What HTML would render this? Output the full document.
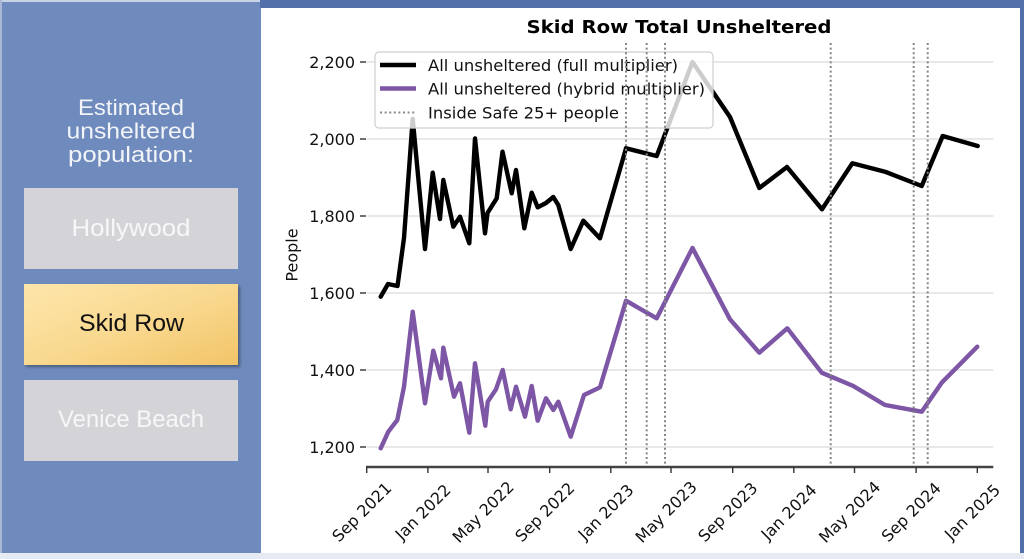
<!DOCTYPE html>
<html><head><meta charset="utf-8"><style>
html,body{margin:0;padding:0;width:1024px;height:559px;overflow:hidden;background:#6f8bbd}
svg{display:block}
</style></head><body>
<svg width="1024" height="559" viewBox="0 0 1024 559" xmlns="http://www.w3.org/2000/svg">
<defs>
<linearGradient id="gold" x1="0" y1="0" x2="1" y2="1">
<stop offset="0" stop-color="#fde6ab"/><stop offset="0.5" stop-color="#f9d990"/><stop offset="1" stop-color="#f2c467"/>
</linearGradient>
<filter id="sh" x="-10%" y="-10%" width="130%" height="140%"><feDropShadow dx="2" dy="2" stdDeviation="1.5" flood-color="#000" flood-opacity="0.35"/></filter>
</defs>
<!-- background -->
<rect x="0" y="0" width="1024" height="559" fill="#6f8bbd"/>
<rect x="260" y="0" width="764" height="8" fill="#5370aa"/>
<rect x="1020" y="0" width="4" height="559" fill="#5370aa"/>
<rect x="0" y="0" width="260" height="2" fill="#c9d3e6"/>
<rect x="0" y="0" width="2" height="553" fill="#aab8d6"/>
<rect x="0" y="553" width="1024" height="6" fill="#e6eaf3"/>

<!-- left panel text -->
<g font-family="'Liberation Sans', 'DejaVu Sans', sans-serif" fill="#f2f4f8" font-size="22" text-anchor="middle">
<text x="131" y="115" textLength="106" lengthAdjust="spacingAndGlyphs">Estimated</text>
<text x="131" y="138.5" textLength="129" lengthAdjust="spacingAndGlyphs">unsheltered</text>
<text x="131" y="162" textLength="126" lengthAdjust="spacingAndGlyphs">population:</text>
</g>
<rect x="24" y="188" width="214" height="81" fill="#d4d4d8"/>
<rect x="24" y="284" width="214" height="81" fill="url(#gold)" filter="url(#sh)"/>
<rect x="24" y="380" width="214" height="81" fill="#d4d4d8"/>
<g font-family="'Liberation Sans', 'DejaVu Sans', sans-serif" font-size="24" text-anchor="middle">
<text x="131" y="236" fill="#f7f7f9" textLength="119" lengthAdjust="spacingAndGlyphs">Hollywood</text>
<text x="131.5" y="331" fill="#111" textLength="105" lengthAdjust="spacingAndGlyphs">Skid Row</text>
<text x="131" y="427" fill="#f7f7f9" textLength="146" lengthAdjust="spacingAndGlyphs">Venice Beach</text>
</g>

<!-- chart panel -->
<rect x="261" y="8" width="759" height="545" fill="#ffffff"/>

<!-- gridlines -->
<g stroke="#e0e0e0" stroke-width="1.6">
<line x1="366.7" y1="62" x2="993.3" y2="62"/>
<line x1="366.7" y1="139" x2="993.3" y2="139"/>
<line x1="366.7" y1="216" x2="993.3" y2="216"/>
<line x1="366.7" y1="293" x2="993.3" y2="293"/>
<line x1="366.7" y1="370" x2="993.3" y2="370"/>
<line x1="366.7" y1="447" x2="993.3" y2="447"/>
</g>

<!-- y ticks -->
<g stroke="#333" stroke-width="1.4">
<line x1="360" y1="62" x2="366" y2="62"/>
<line x1="360" y1="139" x2="366" y2="139"/>
<line x1="360" y1="216" x2="366" y2="216"/>
<line x1="360" y1="293" x2="366" y2="293"/>
<line x1="360" y1="370" x2="366" y2="370"/>
<line x1="360" y1="447" x2="366" y2="447"/>
</g>
<g font-family="'DejaVu Sans', sans-serif" font-size="16" fill="#111" text-anchor="end">
<text x="355" y="68">2,200</text>
<text x="355" y="145">2,000</text>
<text x="355" y="222">1,800</text>
<text x="355" y="299">1,600</text>
<text x="355" y="376">1,400</text>
<text x="355" y="453">1,200</text>
</g>
<text x="0" y="0" transform="translate(297.5 255) rotate(-90)" font-family="'DejaVu Sans', sans-serif" font-size="16" fill="#111" text-anchor="middle">People</text>

<!-- data lines -->
<polyline fill="none" stroke="#000" stroke-width="4.4" stroke-linejoin="round" stroke-linecap="round" points="380.7,296.7 388,284 397.5,286 404,238 412.7,119 425,249 432.7,172.7 440,219 443.3,180 453.3,226.7 460,216.7 469.3,243.3 475,138.5 485,233.3 487.5,213 496.7,198.3 502.5,151.7 511.7,193.3 516,170 524.3,228.3 531.7,192.7 537.7,207.3 546,203 553.3,197 558.3,205 570.7,249 583.3,220.7 600,238.3 626,148.3 656.7,156 692.5,62 730,117 759.3,188 787,167 822,209.3 852.3,163.3 885,171.7 921.7,186 942.7,136 977.7,146"/>
<polyline fill="none" stroke="#7d56a6" stroke-width="4.4" stroke-linejoin="round" stroke-linecap="round" points="380.7,448.3 388.3,431.7 397.3,420 404,386.7 412.7,311.7 425,403.3 433.3,350.7 441,378.3 443.3,347.7 454,396.7 460,383.3 469.3,432.7 475,363.3 485.3,425.7 487.7,401.7 496,389.3 502.7,370 510.7,409.3 516,386.7 525,416.7 531.7,386 537.7,420.7 546,398.3 553.3,410 558.3,401.7 570.7,436.7 584,395 600,387.3 626,300.7 656.7,318.3 692.5,248 730,319.3 759.3,352.7 787.3,328.3 821.7,372.7 853.3,386 885,405 921.7,411.7 941.7,382.7 977.3,346.7"/>

<!-- legend -->
<rect x="375" y="52" width="338" height="76" rx="4" ry="4" fill="#ffffff" fill-opacity="0.8" stroke="#cfcfcf" stroke-width="1.2"/>
<line x1="380" y1="65" x2="416" y2="65" stroke="#000" stroke-width="4.4"/>
<line x1="380" y1="88.5" x2="416" y2="88.5" stroke="#7d56a6" stroke-width="4.4"/>
<line x1="380" y1="112.5" x2="416" y2="112.5" stroke="#8a8a8a" stroke-width="2" stroke-dasharray="2 2.6"/>
<g font-family="'DejaVu Sans', sans-serif" font-size="16" fill="#111">
<text x="428" y="71" textLength="250" lengthAdjust="spacingAndGlyphs">All unsheltered (full multiplier)</text>
<text x="428" y="94.5" textLength="277" lengthAdjust="spacingAndGlyphs">All unsheltered (hybrid multiplier)</text>
<text x="428" y="118.5" textLength="191" lengthAdjust="spacingAndGlyphs">Inside Safe 25+ people</text>
</g>

<!-- vertical dotted lines -->
<g stroke="#858585" stroke-width="2" stroke-dasharray="2 2.6">
<line x1="626" y1="43" x2="626" y2="466"/>
<line x1="646.7" y1="43" x2="646.7" y2="466"/>
<line x1="665" y1="43" x2="665" y2="466"/>
<line x1="830.7" y1="43" x2="830.7" y2="466"/>
<line x1="913.7" y1="43" x2="913.7" y2="466"/>
<line x1="927.7" y1="43" x2="927.7" y2="466"/>
</g>

<!-- x axis -->
<line x1="366" y1="467" x2="993.3" y2="467" stroke="#444" stroke-width="2.4"/>
<g stroke="#333" stroke-width="1.4">
<line x1="366.7" y1="467" x2="366.7" y2="473"/>
<line x1="427.9" y1="467" x2="427.9" y2="473"/>
<line x1="488" y1="467" x2="488" y2="473"/>
<line x1="549.7" y1="467" x2="549.7" y2="473"/>
<line x1="610.8" y1="467" x2="610.8" y2="473"/>
<line x1="671" y1="467" x2="671" y2="473"/>
<line x1="732.7" y1="467" x2="732.7" y2="473"/>
<line x1="793.8" y1="467" x2="793.8" y2="473"/>
<line x1="854.5" y1="467" x2="854.5" y2="473"/>
<line x1="916.1" y1="467" x2="916.1" y2="473"/>
<line x1="977.3" y1="467" x2="977.3" y2="473"/>
</g>
<g font-family="'DejaVu Sans', sans-serif" font-size="16" fill="#111" text-anchor="middle">
<text transform="translate(365.7 516) rotate(-45)">Sep 2021</text>
<text transform="translate(426.9 516) rotate(-45)">Jan 2022</text>
<text transform="translate(487 516) rotate(-45)">May 2022</text>
<text transform="translate(548.7 516) rotate(-45)">Sep 2022</text>
<text transform="translate(609.8 516) rotate(-45)">Jan 2023</text>
<text transform="translate(670 516) rotate(-45)">May 2023</text>
<text transform="translate(731.7 516) rotate(-45)">Sep 2023</text>
<text transform="translate(792.8 516) rotate(-45)">Jan 2024</text>
<text transform="translate(853.5 516) rotate(-45)">May 2024</text>
<text transform="translate(915.1 516) rotate(-45)">Sep 2024</text>
<text transform="translate(976.3 516) rotate(-45)">Jan 2025</text>
</g>

<!-- title -->
<text x="679" y="33" font-family="'DejaVu Sans', sans-serif" font-weight="bold" font-size="18" fill="#000" text-anchor="middle" textLength="305" lengthAdjust="spacingAndGlyphs">Skid Row Total Unsheltered</text>
</svg>
</body></html>
